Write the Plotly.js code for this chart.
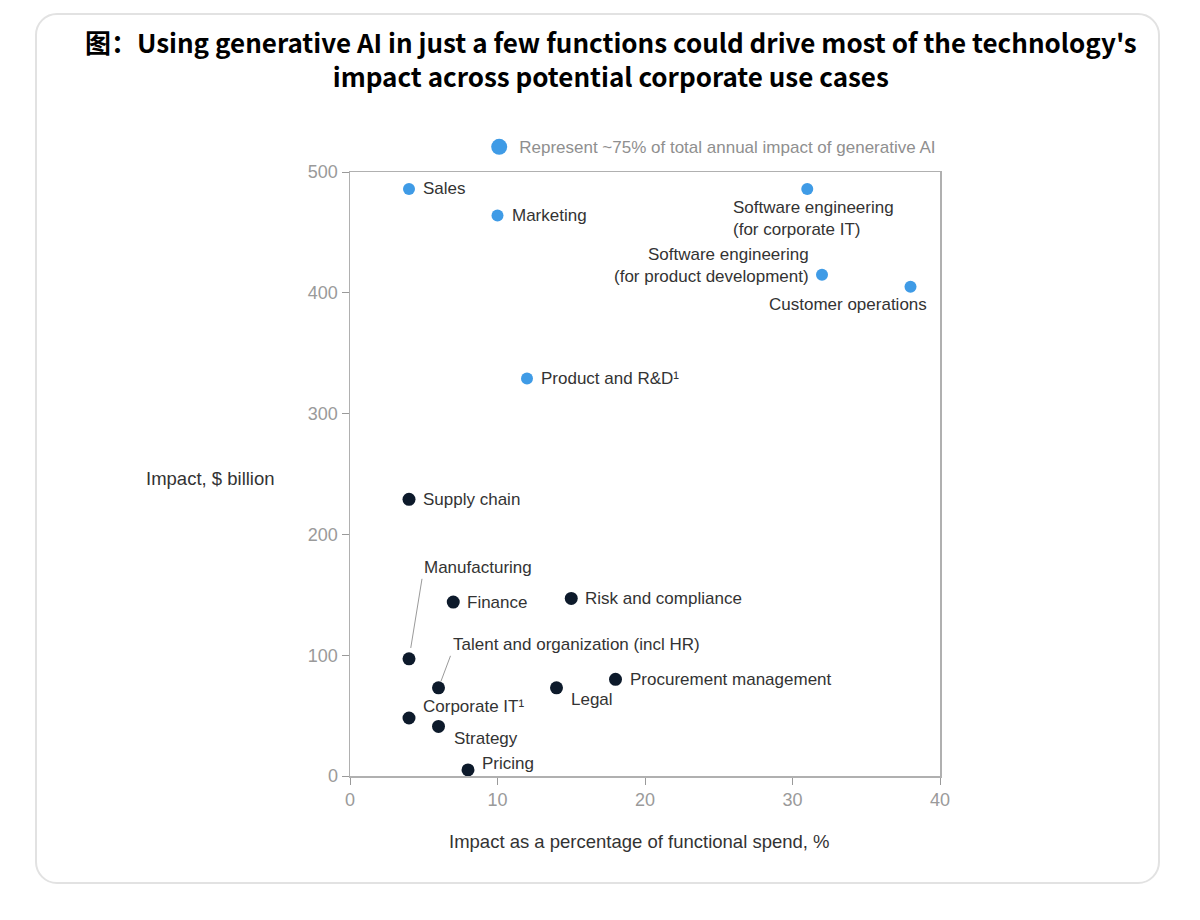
<!DOCTYPE html>
<html>
<head>
<meta charset="utf-8">
<script src="https://cdn.plot.ly/plotly-3.0.1.min.js"></script>
<style>
  html, body { margin: 0; padding: 0; background: #fff; }
  #wrap { position: relative; width: 1200px; height: 920px; }
  #chart { width: 1200px; height: 920px; }
  #frame { position: absolute; left: 35px; top: 13px; width: 1125px; height: 871px;
           border: 2px solid #e2e2e2; border-radius: 22px; pointer-events: none; box-sizing: border-box; }
</style>
</head>
<body>
<div id="wrap">
  <div id="chart"></div>
  <div id="frame"></div>
</div>
<script>
// ---- Data ----
const highCategories = ["Sales", "Marketing", "Software engineering<br>(for corporate IT)", "Software engineering<br>(for product development)", "Customer operations", "Product and R&D¹"];
const highSpendPct   = [4, 10, 31, 32, 38, 12];
const highImpact     = [486, 464, 486, 415, 405, 329];

const otherCategories = ["Supply chain", "Manufacturing", "Finance", "Risk and compliance", "Talent and organization (incl HR)", "Legal", "Procurement management", "Corporate IT¹", "Strategy", "Pricing"];
const otherSpendPct   = [4, 4, 7, 15, 6, 14, 18, 4, 6, 8];
const otherImpact     = [229, 97, 144, 147, 73, 73, 80, 48, 41, 5];

const legendText = "Represent ~75% of total annual impact of generative AI";
const xTicks = [0, 10, 20, 30, 40];
const yTicks = [0, 100, 200, 300, 400, 500];

// ---- Label placement (style, not data) ----
const highLabelStyle = [
  {xanchor: "left", yanchor: "middle", xshift: 12, yshift: 0},
  {xanchor: "left", yanchor: "middle", xshift: 12, yshift: 0},
  {xanchor: "center", yanchor: "top", xshift: 6, yshift: -7, align: "left"},
  {xanchor: "right", yanchor: "middle", xshift: -11, yshift: 9, align: "right"},
  {xanchor: "right", yanchor: "middle", xshift: 18, yshift: -18},
  {xanchor: "left", yanchor: "middle", xshift: 12, yshift: 0}
];
const otherLabelStyle = [
  {xanchor: "left", yanchor: "middle", xshift: 12, yshift: 0},
  {arrow: true, ax: 13, ay: -80, standoff: 11},
  {xanchor: "left", yanchor: "middle", xshift: 12, yshift: 0},
  {xanchor: "left", yanchor: "middle", xshift: 12, yshift: 0},
  {arrow: true, ax: 12, ay: -32, standoff: 7},
  {xanchor: "left", yanchor: "middle", xshift: 12, yshift: -12},
  {xanchor: "left", yanchor: "middle", xshift: 12, yshift: 0},
  {xanchor: "left", yanchor: "middle", xshift: 12, yshift: 12},
  {xanchor: "left", yanchor: "middle", xshift: 13, yshift: -12},
  {xanchor: "left", yanchor: "middle", xshift: 12, yshift: 6}
];

const BLUE = "#3f9be6";
const DARK = "#0d1a2b";
const LABEL_FONT = {family: "Liberation Sans, Arial, sans-serif", size: 17, color: "#333"};
const AXIS_TITLE_FONT = {family: "Liberation Sans, Arial, sans-serif", size: 18.5, color: "#333"};
const TICK_FONT = {family: "Liberation Sans, Arial, sans-serif", size: 18, color: "#9a9a9a"};

const traces = [
  {
    type: "scatter", mode: "markers", name: "high",
    x: highSpendPct, y: highImpact, text: highCategories,
    marker: {color: BLUE, size: 12}, showlegend: false, cliponaxis: false, hoverinfo: "text"
  },
  {
    type: "scatter", mode: "markers", name: "other",
    x: otherSpendPct, y: otherImpact, text: otherCategories,
    marker: {color: DARK, size: 13}, showlegend: false, cliponaxis: false, hoverinfo: "text"
  },
  {
    type: "scatter", mode: "markers", name: legendText,
    x: [null], y: [null],
    marker: {color: BLUE, size: 17}, showlegend: true
  }
];

function makeLabels(cats, xs, ys, styles) {
  return cats.map((c, i) => {
    const s = styles[i];
    const a = {x: xs[i], y: ys[i], xref: "x", yref: "y", text: c, font: LABEL_FONT};
    if (s.arrow) {
      Object.assign(a, {showarrow: true, ax: s.ax, ay: s.ay, axref: "pixel", ayref: "pixel",
        xanchor: "left", yanchor: "bottom", arrowhead: 0, arrowwidth: 1, arrowcolor: "#9a9a9a",
        standoff: s.standoff});
    } else {
      Object.assign(a, {showarrow: false, xanchor: s.xanchor, yanchor: s.yanchor,
        xshift: s.xshift, yshift: s.yshift, align: s.align || "left"});
    }
    return a;
  });
}

const annotations = [
  ...makeLabels(highCategories, highSpendPct, highImpact, highLabelStyle),
  ...makeLabels(otherCategories, otherSpendPct, otherImpact, otherLabelStyle),
  {
    xref: "paper", yref: "paper", x: -0.124, y: 0.492, xanchor: "right", yanchor: "middle",
    text: "Impact, $ billion", showarrow: false, font: AXIS_TITLE_FONT
  },
  {
    xref: "paper", yref: "paper", x: 0.4915, y: -0.109, xanchor: "center", yanchor: "middle",
    text: "Impact as a percentage of functional spend, %", showarrow: false, font: AXIS_TITLE_FONT
  }
];

const layout = {
  width: 1200, height: 920,
  paper_bgcolor: "#fff", plot_bgcolor: "#fff",
  margin: {l: 350, r: 260, t: 172, b: 144},
  title: {
    text: "图：Using generative AI in just a few functions could drive most of the technology's<br>impact across potential corporate use cases",
    x: 0.509, xanchor: "center", xref: "container",
    y: 0.942, yanchor: "top", yref: "container",
    font: {family: "Liberation Sans Narrow, Noto Sans CJK SC, sans-serif", size: 26, color: "#000", weight: 700}
  },
  xaxis: {
    range: [0, 40], tickvals: xTicks, ticktext: xTicks.map(String),
    showgrid: false, zeroline: false, showline: true, mirror: true,
    linecolor: "#b0b0b0", linewidth: 1.5, ticks: "outside", ticklen: 7, tickcolor: "#9a9a9a",
    tickfont: TICK_FONT, fixedrange: true
  },
  yaxis: {
    range: [0, 500], tickvals: yTicks, ticktext: yTicks.map(String),
    showgrid: false, zeroline: false, showline: true, mirror: true,
    linecolor: "#b0b0b0", linewidth: 1.5, ticks: "outside", ticklen: 7, tickcolor: "#9a9a9a",
    tickfont: TICK_FONT, fixedrange: true
  },
  legend: {
    x: 0.219, y: 1.041, xanchor: "left", yanchor: "middle", xref: "paper", yref: "paper",
    bgcolor: "rgba(0,0,0,0)", itemsizing: "trace",
    font: {family: "Liberation Sans, Arial, sans-serif", size: 17, color: "#8f8f8f"}
  },
  annotations: annotations,
  showlegend: true
};

Plotly.newPlot("chart", traces, layout, {displayModeBar: false, staticPlot: true});
</script>
</body>
</html>
